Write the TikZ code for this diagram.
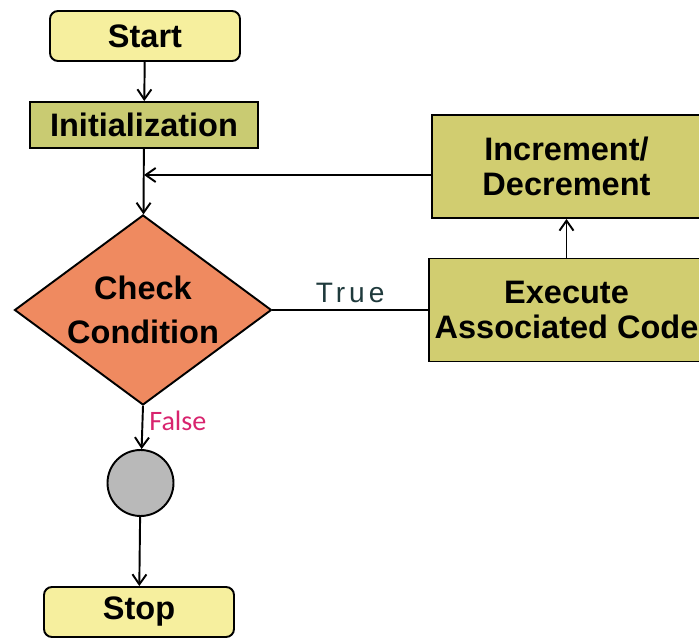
\documentclass[tikz,border=0pt]{standalone}
\usepackage{fontspec}
\setmainfont{Liberation Sans}
\newfontfamily\sidefont{Carlito}
\usetikzlibrary{shapes.geometric,arrows.meta}
\definecolor{termfill}{HTML}{F6EF9E}
\definecolor{initfill}{HTML}{C9CB72}
\definecolor{procfill}{HTML}{D1CD70}
\definecolor{condfill}{HTML}{EF8A60}
\definecolor{joinfill}{HTML}{B9B9B9}
\definecolor{truetext}{HTML}{1F3A3C}
\definecolor{falsetext}{HTML}{D8246E}

\begin{document}
\begin{tikzpicture}[line width=1.1pt,>={Straight Barb[length=2mm,width=2.8mm]},
		every node/.style={font=\bfseries\fontsize{18.5}{20}\selectfont},
		term/.style={draw,rounded corners=.16cm,fill=termfill,minimum width=3.8cm,minimum height=1cm},
		initbox/.style={draw,fill=initfill,minimum width=4.56cm,minimum height=.92cm},
		procbox/.style={draw,fill=procfill,align=center,minimum width=5.38cm,minimum height=2.06cm},
		cond/.style={draw,diamond,fill=condfill,align=center,shape aspect=1.35,minimum width=5.14cm,minimum height=3.8cm,
			inner sep=-3pt,font=\bfseries\fontsize{18.5}{25}\selectfont},
		joint/.style={draw,circle,fill=joinfill,minimum size=1.32cm,inner sep=0pt}]
		\useasboundingbox (0,0) rectangle (13.98,12.82);
		\node[term] (start) at (2.9,12.1) {Start};
		\node[initbox] (init) at (2.88,10.32) {Initialization};
		\node[cond] (check) at (2.86,6.62) {Check\\Condition};
		\node[procbox] (exec) at (11.33,6.62) {Execute\\Associated Code};
		\node[procbox] (incr) at (11.33,9.49) {Increment/\\Decrement};
		\node[joint] (join) at (2.81,3.16) {};
		\node[term] (stop) at (2.78,.58) {Stop};
		\coordinate (back) at (2.88,9.32);
		\draw[->] (start) -- (init);
		\draw[->] (init) -- (check);
		\draw[->] ([yshift=-.17cm]incr.west) -- (back);
		\draw (check.east) -- node[above,font=\fontsize{16}{16}\selectfont\addfontfeature{LetterSpace=14},text=truetext] (truelbl) {True} (exec.west);
		\draw[->] (exec) -- (incr);
		\draw[->] (check.south) -- node[right,pos=.35,font=\sidefont\fontsize{16}{16}\selectfont,text=falsetext] (falselbl) {False} (join);
		\draw[->] (join) -- (stop);
	\end{tikzpicture}
\end{document}
